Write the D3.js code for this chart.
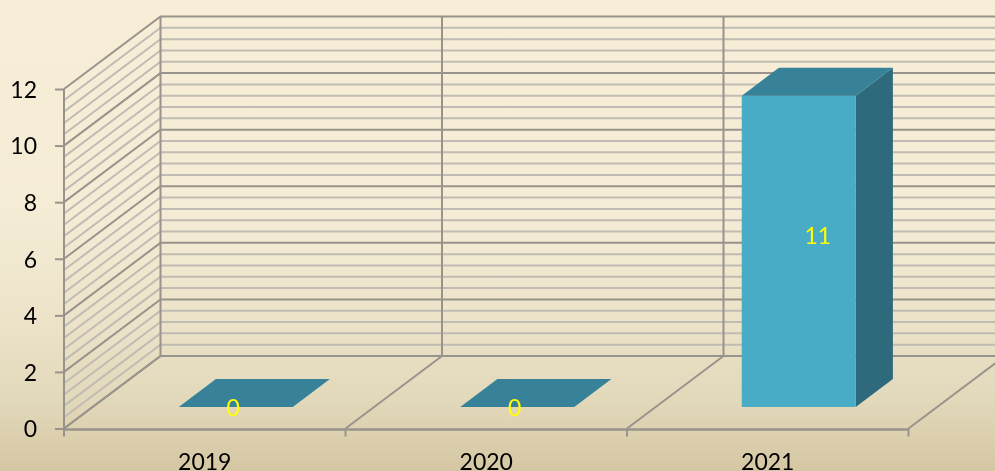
<!DOCTYPE html>
<html><head><meta charset="utf-8">
<script src="https://cdn.jsdelivr.net/npm/d3@7"></script>
<style>html,body{margin:0;padding:0;overflow:hidden}svg{display:block;font-family:Lato,"Open Sans",sans-serif}</style>
</head><body><svg id="c" width="995" height="471"></svg>
<script>
const categories = ["2019","2020","2021"];
const values = [0,0,11];
const yTickValues = [0,2,4,6,8,10,12];
const minorStep = 0.4;

const svg = d3.select("#c");
const W = 995, H = 471;
const defs = svg.append("defs");
const g = defs.append("linearGradient").attr("id","bg").attr("x1",0).attr("x2",0).attr("y1",0).attr("y2",1);
[[0,"#f8eed7"],[0.45,"#f5ecd6"],[0.7,"#ebe2c8"],[0.85,"#e2d8ba"],[1,"#d5c7a3"]].forEach(s=>g.append("stop").attr("offset",s[0]).attr("stop-color",s[1]));
defs.append("filter").attr("id","soft").append("feGaussianBlur").attr("stdDeviation",0.55);
defs.append("filter").attr("id","softText").append("feGaussianBlur").attr("stdDeviation",0.3);
svg.append("rect").attr("width",W).attr("height",H).attr("fill","url(#bg)");

const x = d3.scaleBand().domain(categories).range([64,908.5]).padding(0);
const y = d3.scaleLinear().domain([0,12]).range([428.5,89]);
const depth = {dx:96.5, dy:-72.5};
const back = (px,py,f=1)=>[px+depth.dx*f, py+depth.dy*f];
const line = d3.line();
const root = svg.append("g").attr("filter","url(#soft)");

const MAJOR="#98948b", MINOR="#c0bcb3";
const minorVals = d3.range(0, 12+1e-6, minorStep).filter(v=>Math.abs(v/2-Math.round(v/2))>1e-6);
const wallRight = 1010;
function grid(vals,col,w){
  vals.forEach(v=>{
    const p=y(v), b=back(64,p);
    root.append("path").attr("d",line([[64,p],b,[wallRight,b[1]]])).attr("fill","none").attr("stroke",col).attr("stroke-width",w);
  });
}
grid(minorVals,MINOR,2);
grid(yTickValues,MAJOR,2);

const edges = categories.map(c=>x(c)).concat([x.range()[1]]);
edges.forEach(e=>{
  const b=back(e,y(0));
  root.append("path").attr("d",line([[e,y(0)],b])).attr("fill","none").attr("stroke",MAJOR).attr("stroke-width",2);
  const t=back(e,y(12));
  root.append("path").attr("d",line([b,t])).attr("fill","none").attr("stroke",MAJOR).attr("stroke-width",2);
});
root.append("path").attr("d",line([[64,y(0)],[64,y(12)]])).attr("fill","none").attr("stroke",MAJOR).attr("stroke-width",2);

// bars
const barW = 114, f0 = 0.297, f1 = 0.682;
categories.forEach((c,i)=>{
  const cx = x(c)+x.bandwidth()/2;
  const fx = cx + 31 - barW/2;
  const base = y(0)+depth.dy*f0;
  const h = y(0)-y(values[i]);
  const top = base-h;
  const ox = depth.dx*(f1-f0), oy = depth.dy*(f1-f0);
  if(values[i]>0){
    root.append("path").attr("d",line([[fx+barW,top],[fx+barW+ox,top+oy],[fx+barW+ox,base+oy],[fx+barW,base]])+"Z").attr("fill","#2f6b7c");
    root.append("rect").attr("x",fx).attr("y",top).attr("width",barW).attr("height",h).attr("fill","#4aacc7");
  }
  root.append("path").attr("d",line([[fx,top],[fx+ox,top+oy],[fx+barW+ox,top+oy],[fx+barW,top]])+"Z").attr("fill","#378299");
});

// axes
const axisLeft = d3.axisLeft(y).tickValues(yTickValues).tickSize(9).tickPadding(18);
const ya = root.append("g").attr("transform","translate(64,0)").call(axisLeft);
const xa = root.append("g").attr("transform",`translate(0,${y(0)})`);
xa.append("path").attr("d",line([[64,1],[908.5,1]])).attr("stroke",MAJOR).attr("stroke-width",2.4).attr("fill","none");
edges.forEach(e=>xa.append("path").attr("d",line([[e,0],[e,8]])).attr("stroke",MAJOR).attr("stroke-width",2));
ya.select(".domain").remove();
ya.selectAll("line").attr("stroke",MAJOR).attr("stroke-width",2);
ya.selectAll("text").remove();

const labels = svg.append("g").attr("filter","url(#softText)");
const ytxt = labels.append("g").attr("transform","translate(64,1)").call(d3.axisLeft(y).tickValues(yTickValues).tickSize(9).tickPadding(18));
ytxt.select(".domain").remove(); ytxt.selectAll("line").remove();
const xt = labels.append("g").attr("transform",`translate(0,${y(0)})`).call(d3.axisBottom(x).tickSize(0).tickPadding(25));
xt.select(".domain").remove();
labels.selectAll(".tick text").attr("font-family","Lato,'Open Sans',sans-serif").attr("font-size",23).attr("fill","#000");

// value labels
const labelDx = [28.5,28.5,50];
const labelY = [408,408,236];
categories.forEach((c,i)=>{
  labels.append("text").attr("x",x(c)+x.bandwidth()/2+labelDx[i]).attr("y",labelY[i]).attr("dy","0.35em")
    .attr("text-anchor","middle").attr("font-family","Lato,'Open Sans',sans-serif").attr("font-size",23).attr("fill","#ffff00").text(values[i]);
});
</script></body></html>
